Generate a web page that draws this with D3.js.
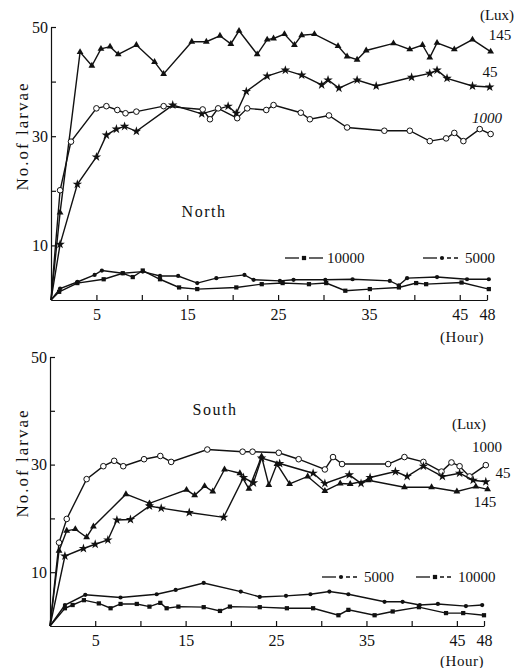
<!DOCTYPE html>
<html>
<head>
<meta charset="utf-8">
<script src="https://cdn.jsdelivr.net/npm/d3@7"></script>
<style>
  body { margin: 0; background: #fff; }
  svg text { font-family: "Liberation Serif", "DejaVu Serif", serif; fill: #111; }
</style>
</head>
<body>
<div id="chart"></div>
<script>
// hour ticks and labels
const hourTicks = [5, 10, 15, 20, 25, 30, 35, 40, 45, 48];
const hourLabels = [5, 15, 25, 35, 45, 48];
const countTicks = [10, 20, 30, 40, 50];
const countLabels = [10, 30, 50];

// North, [hour, no. of larvae]
const north145 = [[0,0],[1,16],[3.2,45.4],[4.5,42.9],[5.5,46],[6.5,46.4],[7.4,45],[9.4,46.7],[11.4,43.6],[12.4,41.4],[15.5,47.3],[17.1,47.3],[18.6,48.4],[19.8,46.9],[20.7,49.3],[22.7,45],[23.8,47.7],[24.5,47.9],[25.7,48.7],[26.8,46.7],[27.6,48.5],[29,48.7],[31.6,46.5],[32.6,44.6],[33.7,44],[34.7,45.7],[37.7,47],[39.5,45.9],[40.9,46.7],[41.7,44.4],[42.5,47.1],[44.4,45.9],[46.4,47.7],[48.4,45.5]];
const north45 = [[0,0],[1,10.2],[2.9,21.2],[5,26.2],[6.1,30.2],[7.2,31.3],[8.1,31.8],[9.4,30.9],[13.4,35.7],[16.6,34.1],[19.5,35.5],[20.4,34.2],[21.5,38.2],[23.8,41],[25.8,42.1],[27.6,41.2],[29.8,39.4],[30.5,40.3],[31.7,38.8],[33.7,40.3],[35.8,39.2],[39.7,40.8],[41.7,41.5],[42.5,42.1],[43.6,40.6],[46.4,39.2],[48.3,39]];
const north1000 = [[0,0],[1,20.1],[2.2,29],[5,35.1],[6.1,35.5],[7.3,34.8],[8.2,34.2],[9.4,34.5],[12.4,35.5],[16.7,34.9],[17.5,33.1],[18.4,35.1],[20.5,33.3],[21.6,35.1],[23.7,34.8],[24.5,35.7],[27.5,34.3],[28.5,33.1],[30.6,33.8],[32.6,31.6],[36.7,31],[39.5,31],[41.7,29.1],[43.5,29.6],[44.4,30.6],[45.4,29.1],[47.2,31.3],[48.4,30.4]];
const north10000 = [[0,0],[0.9,1.5],[2.9,3.1],[5.8,3.8],[7.9,4.9],[9,4.2],[10.1,5.4],[12,3.8],[14.1,2.3],[16.1,2],[20.4,2.3],[23.2,2.9],[25.5,3.1],[28.4,2.9],[30.3,3.1],[32.4,1.7],[35.1,2],[38.3,2.3],[40.2,3.1],[41.3,2.9],[45.2,3.2],[48.2,2]];
const north5000 = [[0,0],[1,2.1],[2.9,3.3],[4.8,4.6],[5.6,5.4],[7.9,4.9],[10.1,5.2],[12,4.4],[14,4.4],[16.1,3.1],[18.2,4],[21.3,4.6],[22.3,3.7],[25.2,3.5],[26.7,3.7],[30.2,3.7],[33.2,3.8],[37.3,3.5],[38.3,2.7],[39.2,4],[42.5,4.2],[45.8,3.8],[48.2,3.8]];

// South, [hour, no. of larvae]
const south1000 = [[0,0],[1,15.5],[1.85,19.9],[4.05,27.3],[5.9,29.7],[7.1,30.7],[8.1,29.7],[10.4,31],[12.2,31.6],[13.4,30.5],[17.4,32.8],[21.3,32.4],[22.4,32.4],[25.3,32.2],[27.5,31],[30.4,29.1],[31.3,31.4],[32.3,30.1],[37.4,30.1],[39.2,31.4],[41.3,30.5],[43.3,28.7],[44.4,30.4],[45.3,29.7],[46.4,27.8],[48.2,29.9]];
const south45 = [[0,0],[1.65,13],[3.7,14.4],[5,15.2],[6.4,16],[7.4,19.7],[8.9,19.8],[11,22.3],[12.3,21.9],[15.4,21.1],[19.2,20.2],[21.4,27.6],[22.5,26.6],[23.4,31.2],[25.4,30.2],[29.1,28.4],[30.4,26.5],[33.1,28.1],[34.4,26.5],[35.4,27.6],[38.2,28.7],[39.5,27.8],[41.3,29.7],[43.4,27.8],[45.3,28.4],[46.8,27.1],[48.2,26.8]];
const south145 = [[0,0],[1,14],[1.85,17.7],[2.8,18],[4.05,16.5],[4.8,18.5],[8.4,24.5],[11,22.8],[15.1,25.3],[16,24.3],[17.1,26],[18,25],[19.3,29.1],[21,28.4],[22,25.5],[23.4,31.5],[24.2,26.2],[25.1,30.1],[26.5,26.4],[28.5,27.8],[30.4,25.1],[32.1,26.5],[33.2,26.4],[35.2,27.1],[39.2,25.8],[42.2,25.8],[45,25],[47.1,25.9],[48.4,25.4]];
const south5000 = [[0,0],[1.65,3.9],[3.9,5.8],[7.8,5.3],[11.8,5.9],[13.9,6.7],[17,8],[21.1,6.4],[23.2,5.4],[26.1,5.6],[28.8,5.9],[30.9,6.4],[33,5.9],[37,4.5],[39,4.5],[40.9,3.9],[42.9,4.1],[46,3.7],[47.8,3.9]];
const south10000 = [[0,0],[1.65,3.3],[2.5,3.9],[3.75,4.8],[5.4,4.2],[6.7,3.3],[7.8,4.1],[9.6,4.1],[11,3.6],[12.2,4.3],[12.9,3.3],[14.2,3.6],[17,3.5],[18.8,2.8],[19.9,3.6],[23.2,3.5],[26.2,3.3],[29.1,3.3],[31.9,2],[33,3],[35.9,2],[37.9,2.7],[40.8,3.5],[43.8,2.4],[45.7,2.4],[48,2]];

const W = 532, H = 668;
const svg = d3.select("#chart").append("svg")
    .attr("width", W)
    .attr("height", H);

const symbols = {
    tri: d3.symbol().type(d3.symbolTriangle).size(20),
    star: d3.symbol().type(d3.symbolStar).size(28),
    square: d3.symbol().type(d3.symbolSquare).size(18),
    dot: d3.symbol().type(d3.symbolCircle).size(14)
};

function drawMarker(g, kind, x, y) {
    if (kind === "open") {
        g.append("circle")
            .attr("cx", x).attr("cy", y).attr("r", 2.8)
            .style("fill", "#fff").style("stroke", "#111").style("stroke-width", 1);
    } else {
        g.append("path")
            .attr("d", symbols[kind]())
            .attr("transform", `translate(${x},${y})`)
            .style("fill", "#111");
    }
}

function drawPanel(p) {
    const g = svg.append("g");
    const x = d3.scaleLinear().domain([0, 48]).range([p.x0, p.x1]);
    const y = d3.scaleLinear().domain([0, 50]).range([p.y0, p.y1]);

    let yAxis = g.append("g")
        .attr("transform", `translate(${p.x0},0)`)
        .call(d3.axisLeft(y).tickValues(countTicks)
            .tickFormat(d => countLabels.includes(d) ? d : "")
            .tickSizeInner(-5).tickSizeOuter(0).tickPadding(3));
    let xAxis = g.append("g")
        .attr("transform", `translate(0,${p.y0})`)
        .call(d3.axisBottom(x).tickValues(hourTicks)
            .tickFormat(d => hourLabels.includes(d) ? d : "")
            .tickSizeInner(-5).tickSizeOuter(0).tickPadding(9));
    [yAxis, xAxis].forEach(a => {
        a.selectAll("path, line").style("stroke", "#111").style("stroke-width", 1.2);
        a.selectAll("text").style("font-size", "16px").style("font-family", "Liberation Serif, serif");
    });

    const line = d3.line().x(d => x(d[0])).y(d => y(d[1]));
    p.series.forEach(s => {
        g.append("path")
            .datum(s.data)
            .attr("d", line)
            .style("fill", "none")
            .style("stroke", "#111")
            .style("stroke-width", 1.4);
        s.data.slice(1).forEach(d => drawMarker(g, s.marker, x(d[0]), y(d[1])));
    });

    g.append("text")
        .attr("transform", `translate(${p.labelX},${p.labelY}) rotate(-90)`)
        .attr("text-anchor", "middle")
        .attr("dominant-baseline", "central")
        .style("font-size", "17px")
        .style("letter-spacing", "2px")
        .text("No.of  larvae");

    g.append("text")
        .attr("x", p.hourX).attr("y", p.hourY)
        .attr("text-anchor", "middle")
        .style("font-size", "15px")
        .style("letter-spacing", "0.5px")
        .text("(Hour)");

    g.append("text")
        .attr("x", p.titleX).attr("y", p.titleY)
        .attr("text-anchor", "middle")
        .style("font-size", "16px")
        .style("letter-spacing", "1.5px")
        .text(p.title);

    p.notes.forEach(n => {
        g.append("text")
            .attr("x", n.x).attr("y", n.y)
            .attr("text-anchor", "middle")
            .style("font-size", "15px")
            .style("font-style", n.italic ? "italic" : "normal")
            .text(n.text);
    });

    p.legend.forEach(l => {
        let lg = g.append("g");
        lg.append("line")
            .attr("x1", l.x).attr("x2", l.x + 14).attr("y1", l.y).attr("y2", l.y)
            .style("stroke", "#111").style("stroke-width", 1.3);
        lg.append("line")
            .attr("x1", l.x + 24).attr("x2", l.x + 38).attr("y1", l.y).attr("y2", l.y)
            .style("stroke", "#111").style("stroke-width", 1.3)
            .style("stroke-dasharray", l.dashed ? "4,3" : null);
        drawMarker(lg, l.marker, l.x + 19, l.y);
        lg.append("text")
            .attr("x", l.x + 42).attr("y", l.y)
            .attr("dominant-baseline", "central")
            .style("font-size", "15px")
            .text(l.text);
    });
}

drawPanel({
    x0: 51, x1: 487, y0: 300, y1: 27,
    labelX: 22, labelY: 136,
    hourX: 462, hourY: 342,
    title: "North", titleX: 204, titleY: 217,
    series: [
        { data: north145, marker: "tri" },
        { data: north45, marker: "star" },
        { data: north1000, marker: "open" },
        { data: north10000, marker: "square" },
        { data: north5000, marker: "dot" }
    ],
    notes: [
        { text: "(Lux)", x: 497, y: 20 },
        { text: "145", x: 500, y: 40 },
        { text: "45", x: 490, y: 77 },
        { text: "1000", x: 487, y: 123, italic: true }
    ],
    legend: [
        { text: "10000", x: 285, y: 258, marker: "square", dashed: false },
        { text: "5000", x: 423, y: 258, marker: "dot", dashed: true }
    ]
});

drawPanel({
    x0: 50, x1: 484, y0: 626, y1: 357,
    labelX: 22, labelY: 463,
    hourX: 462, hourY: 666,
    title: "South", titleX: 215, titleY: 415,
    series: [
        { data: south1000, marker: "open" },
        { data: south45, marker: "star" },
        { data: south145, marker: "tri" },
        { data: south5000, marker: "dot" },
        { data: south10000, marker: "square" }
    ],
    notes: [
        { text: "(Lux)", x: 469, y: 429 },
        { text: "1000", x: 487, y: 452 },
        { text: "45", x: 503, y: 478 },
        { text: "145", x: 485, y: 507 }
    ],
    legend: [
        { text: "5000", x: 322, y: 577, marker: "dot", dashed: true },
        { text: "10000", x: 416, y: 577, marker: "square", dashed: true }
    ]
});
</script>
</body>
</html>
